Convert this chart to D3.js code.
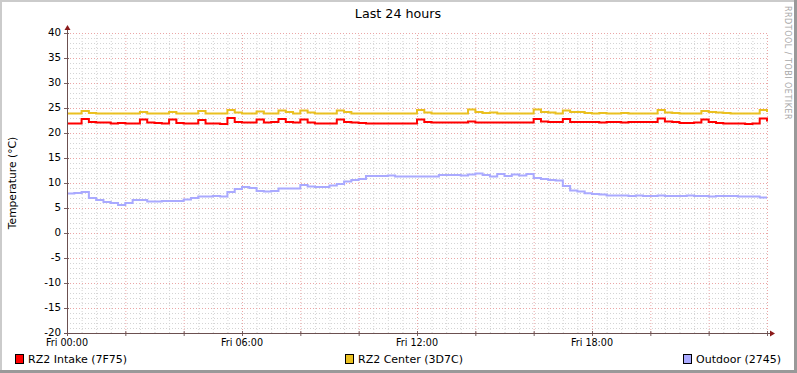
<!DOCTYPE html>
<html><head><meta charset="utf-8">
<script src="https://cdn.jsdelivr.net/npm/d3@7"></script>
<style>body{margin:0;background:#fff}svg{display:block}text{font-family:"DejaVu Sans",sans-serif}</style>
</head><body><svg id="c" width="797" height="373"></svg>
<script>
const title = "Last 24 hours";
const yTitle = "Temperature (°C)";
const watermark = "RRDTOOL / TOBI OETIKER";
const yTicks = [-20,-15,-10,-5,0,5,10,15,20,25,30,35,40];
const xTicks = [0,6,12,18];
const xTickLabels = ["Fri 00:00","Fri 06:00","Fri 12:00","Fri 18:00"];
const stepHours = 0.25;
const seriesNames = ["RZ2 Intake (7F75)","RZ2 Center (3D7C)","Outdoor (2745)"];
const seriesColors = ["#FF0000","#EAC020","#AAAAFF"];
const intake = [21.9,21.9,22.8,22.2,22.1,22.1,21.9,22.0,21.9,21.9,
22.7,22.1,22.0,21.9,22.7,22.0,21.9,21.9,22.6,21.9,
21.9,21.8,23.0,22.2,22.1,22.1,22.7,22.1,22.2,22.8,
22.2,22.1,22.7,22.1,21.9,21.9,21.9,22.7,22.2,22.1,
22.0,21.9,21.9,21.9,21.9,21.9,21.9,21.9,22.7,22.2,
22.1,22.1,22.1,22.1,22.1,22.3,22.1,22.1,22.1,22.1,
22.1,22.1,22.1,22.1,22.8,22.3,22.2,22.2,22.8,22.2,
22.2,22.2,22.2,22.1,22.2,22.2,22.1,22.2,22.2,22.2,
22.2,22.9,22.3,22.2,22.0,22.0,22.1,22.7,22.2,22.0,
21.9,21.9,21.9,21.8,21.9,22.9,22.3];
const center = [23.9,23.9,24.4,24.0,23.9,23.9,23.9,23.9,23.9,23.9,
24.2,23.9,23.9,23.9,24.2,23.9,23.9,23.9,24.4,23.9,
23.9,23.9,24.6,24.1,23.9,23.9,24.3,23.9,23.9,24.5,
24.2,23.9,24.5,24.1,23.9,23.9,23.9,24.5,24.2,23.9,
23.9,23.9,23.9,23.9,23.9,23.9,23.9,23.9,24.6,24.1,
23.9,23.9,23.9,23.9,23.9,24.7,24.2,24.0,24.1,23.9,
23.9,23.9,23.9,23.9,24.7,24.2,24.1,23.9,24.5,24.2,
24.2,24.0,23.9,24.0,23.9,23.9,24.0,23.9,23.9,23.9,
23.9,24.6,24.1,24.0,23.9,23.9,23.9,24.4,24.2,24.1,
24.0,23.9,23.9,23.9,23.9,24.6,24.2];
const outdoor = [7.9,8.0,8.2,7.0,6.6,6.2,6.0,5.6,6.0,6.6,
6.6,6.3,6.3,6.4,6.4,6.4,6.7,7.0,7.3,7.3,
7.4,7.3,8.2,8.8,9.2,9.0,8.4,8.3,8.4,8.9,
8.9,8.9,9.6,9.3,9.2,9.2,9.5,9.8,10.3,10.6,
10.8,11.4,11.4,11.4,11.5,11.3,11.3,11.3,11.3,11.3,
11.3,11.6,11.6,11.6,11.5,11.7,11.9,11.6,11.3,11.8,
11.4,11.7,11.5,11.8,11.0,10.8,10.6,10.5,9.4,8.5,
8.3,7.95,7.8,7.7,7.5,7.5,7.5,7.4,7.5,7.4,
7.4,7.5,7.4,7.4,7.4,7.5,7.4,7.4,7.3,7.4,
7.4,7.4,7.3,7.3,7.3,7.1,7.1];
const series = [intake, center, outdoor];

const svg = d3.select("#c");
const W = 797, H = 373;
const x = d3.scaleLinear().domain([0,24]).range([67,767]);
const y = d3.scaleLinear().domain([-20,40]).range([333,33]);

// frame
svg.append("rect").attr("x",0).attr("y",0).attr("width",W).attr("height",H).attr("fill","#fff");
svg.append("rect").attr("x",0).attr("y",0).attr("width",W).attr("height",2).attr("fill","#CBCBCB");
svg.append("rect").attr("x",0).attr("y",0).attr("width",2).attr("height",H).attr("fill","#CBCBCB");
svg.append("rect").attr("x",W-3).attr("y",0).attr("width",3).attr("height",H).attr("fill","#999");
svg.append("rect").attr("x",0).attr("y",H-3).attr("width",W).attr("height",3).attr("fill","#999");

// grid
const g = svg.append("g");
const hMinor = d3.range(-20,41,1).filter(v=>v%5!==0);
const hMajor = d3.range(-20,41,5);
const vMinor = d3.range(0,24.01,0.5).filter(v=>v%2!==0);
const vMajor = d3.range(0,24.01,2);
const minorC = "#D4D4D4", majorC = "#EBA6A6";
g.selectAll(".hm").data(hMinor).join("line")
 .attr("x1",x(0)).attr("x2",x(24)+1).attr("y1",d=>y(d)+0.5).attr("y2",d=>y(d)+0.5)
 .attr("stroke",minorC).attr("stroke-dasharray","1,2");
g.selectAll(".vm").data(vMinor).join("line")
 .attr("y1",y(-20)).attr("y2",y(40)).attr("x1",d=>x(d)+0.5).attr("x2",d=>x(d)+0.5)
 .attr("stroke",minorC).attr("stroke-dasharray","1,2");
g.selectAll(".hM").data(hMajor).join("line")
 .attr("x1",x(0)).attr("x2",x(24)+1).attr("y1",d=>y(d)+0.5).attr("y2",d=>y(d)+0.5)
 .attr("stroke",majorC).attr("stroke-dasharray","1,2");
g.selectAll(".vM").data(vMajor).join("line")
 .attr("y1",y(-20)).attr("y2",y(40)).attr("x1",d=>x(d)+0.5).attr("x2",d=>x(d)+0.5)
 .attr("stroke",majorC).attr("stroke-dasharray","1,2");

// ticks on axes
g.selectAll(".yt").data(hMajor).join("line")
 .attr("x1",x(0)-3).attr("x2",x(0)+2).attr("y1",d=>y(d)+0.5).attr("y2",d=>y(d)+0.5).attr("stroke","#7a6060");
g.selectAll(".xt").data(vMajor).join("line")
 .attr("y1",y(-20)-2).attr("y2",y(-20)+3).attr("x1",d=>x(d)+0.5).attr("x2",d=>x(d)+0.5).attr("stroke","#7a6060");

// series
const line = d3.line().x((d,i)=>x(i*stepHours)).y(d=>y(d)).curve(d3.curveStepAfter);
series.forEach((s,k)=>{
  svg.append("path").datum(s).attr("d",line).attr("fill","none")
   .attr("stroke",seriesColors[k]).attr("stroke-width",2).attr("stroke-linejoin","miter");
});

// axes lines
svg.append("line").attr("x1",x(0)-3).attr("x2",x(24)+4).attr("y1",y(-20)+0.5).attr("y2",y(-20)+0.5).attr("stroke","#6b5050");
svg.append("line").attr("x1",x(0)+0.5).attr("x2",x(0)+0.5).attr("y1",y(-20)+3).attr("y2",y(40)-4).attr("stroke","#6b5050");
svg.append("path").attr("d",`M${x(24)+3},${y(-20)-2.5}L${x(24)+8},${y(-20)+0.5}L${x(24)+3},${y(-20)+3.5}Z`).attr("fill","#8B1A1A");
svg.append("path").attr("d",`M${x(0)-2.5},${y(40)-3}L${x(0)+0.5},${y(40)-8}L${x(0)+3.5},${y(40)-3}Z`).attr("fill","#8B1A1A");

// tick labels
svg.selectAll(".yl").data(yTicks).join("text")
 .attr("x",61).attr("y",d=>y(d)+3.3).attr("text-anchor","end").attr("font-size","10.3px").attr("fill","#000").text(d=>d);
svg.selectAll(".xl").data(xTicks).join("text")
 .attr("x",d=>x(d)).attr("y",346).attr("text-anchor","middle").attr("font-size","9.6px").attr("fill","#000")
 .text((d,i)=>xTickLabels[i]);

// titles
svg.append("text").attr("x",398).attr("y",18).attr("text-anchor","middle").attr("font-size","12.7px").attr("fill","#000").text(title);
svg.append("text").attr("transform","translate(16,183) rotate(-90)").attr("text-anchor","middle").attr("font-size","10.7px").attr("fill","#000").text(yTitle);
svg.append("text").attr("transform","translate(785,6) rotate(90)").attr("text-anchor","start").attr("font-size","8px").attr("letter-spacing","0.5px").attr("fill","#A8A8A8").text(watermark);

// legend
const legX = [15,345,683];
seriesNames.forEach((n,k)=>{
  svg.append("rect").attr("x",legX[k]+0.5).attr("y",354.5).attr("width",8).attr("height",9)
   .attr("fill",seriesColors[k]).attr("stroke","#000").attr("stroke-width",1);
  svg.append("text").attr("x",legX[k]+13).attr("y",363).attr("font-size","11px").attr("fill","#000").text(n);
});
</script></body></html>
